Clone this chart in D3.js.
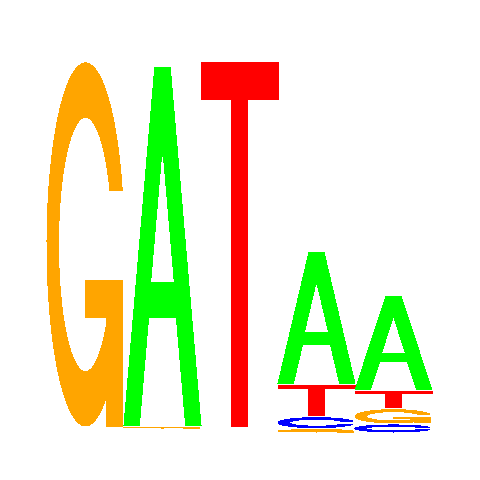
<!DOCTYPE html>
<html>
<head>
<meta charset="utf-8">
<script src="https://cdn.jsdelivr.net/npm/d3@7"></script>
<style>
  html, body { margin: 0; padding: 0; background: #fff; }
  svg { display: block; }
</style>
</head>
<body>
<svg id="logo" width="480" height="480"></svg>
<script>
// ── Data: information content (bits) per base, per position ──────────────
const POSITIONS = [1, 2, 3, 4, 5];
const BASES = ['A', 'C', 'G', 'T'];
const A_BITS = [0.000, 1.884, 0.000, 0.689, 0.491];
const C_BITS = [0.000, 0.000, 0.000, 0.053, 0.037];
const G_BITS = [1.911, 0.005, 0.000, 0.012, 0.070];
const T_BITS = [0.000, 0.000, 1.911, 0.158, 0.083];
const BASE_COLORS = ['#00ff00', '#0000ff', '#ffa500', '#ff0000'];

const svg = d3.select('#logo');
const W = 480, H = 480;
const LEFT = 47, RIGHT = 432, BASELINE = 432, GAP = 2;
const PX_PER_BIT = 190;

const x = d3.scaleBand().domain(POSITIONS).range([LEFT, RIGHT]).padding(0);
const hScale = d3.scaleLinear().domain([0, 1]).range([0, PX_PER_BIT]);
const color = d3.scaleOrdinal().domain(BASES).range(BASE_COLORS);

svg.append('rect').attr('width', W).attr('height', H).attr('fill', '#fff');

// ── Letter outlines in a unit box (x right, y up) ─────────────────────────
function ringShape() {
  const a1 = d3.range(100).map(i => 0.3 + Math.PI / 2 + i * (Math.PI / 2 - 0.3) / 99);
  const a2 = d3.range(100).map(i => Math.PI + i * (Math.PI / 2) / 99);
  const out = [...a1, ...a2].map(a => [0.5 + 0.5 * Math.sin(a), 0.5 + 0.5 * Math.cos(a)]);
  const cut = d3.max(a1, a => 0.5 + 0.5 * Math.cos(a));
  let in1 = a1.map(a => [0.5 + 0.35 * Math.sin(a), 0.5 + 0.35 * Math.cos(a)])
    .filter(p => p[1] <= cut);
  in1[0] = [in1[0][0], cut];
  const in2 = a2.map(a => [0.5 + 0.35 * Math.sin(a), 0.5 + 0.35 * Math.cos(a)]);
  const inn = [...in1, ...in2];
  const outer = [...out, ...out.slice().reverse().map(p => [p[0], 1 - p[1]])];
  const inner = [...inn, ...inn.slice().reverse().map(p => [p[0], 1 - p[1]])];
  return { pts: [...outer, ...inner.reverse()], r1: 0.5 + 0.5 * Math.sin(a1[0]) };
}
const ring = ringShape();
const GLYPHS = {
  A: [
    { hole: false, pts: [[0,0],[0.4,1],[0.6,1],[1,0],[0.8,0],[0.68,0.3],[0.32,0.3],[0.2,0]] },
    { hole: true,  pts: [[0.36,0.4],[0.5,0.75],[0.64,0.4]] }
  ],
  C: [{ hole: false, pts: ring.pts }],
  G: [
    { hole: false, pts: ring.pts },
    { hole: false, pts: [[ring.r1,0.4],[0.5,0.4],[0.5,0.3],[ring.r1-0.2,0.3],[ring.r1-0.2,0],[ring.r1,0]] }
  ],
  T: [{ hole: false, pts: [[0,1],[1,1],[1,0.9],[0.6,0.9],[0.6,0],[0.4,0],[0.4,0.9],[0,0.9]] }]
};

// ── Stack the letters: smallest at the bottom ─────────────────────────────
const letters = [];
POSITIONS.forEach((p, i) => {
  const vals = [A_BITS[i], C_BITS[i], G_BITS[i], T_BITS[i]];
  const col = BASES.map((b, j) => ({ base: b, bits: vals[j], pos: p }))
    .sort((m, n) => m.bits - n.bits);
  let cursor = BASELINE;
  col.forEach(d => {
    d.h = hScale(d.bits);
    d.y1 = cursor;
    cursor = cursor - d.h - GAP;
    if (d.h > 0.3) letters.push(d);
  });
});

const parts = [];
letters.forEach(d => {
  const x0 = x(d.pos), w = x.bandwidth();
  GLYPHS[d.base].forEach(g => {
    parts.push({
      base: d.base, hole: g.hole,
      pts: g.pts.map(([u, v]) => [x0 + u * w, d.y1 - v * d.h])
    });
  });
});

const line = d3.line();
svg.append('g')
  .selectAll('path')
  .data(parts)
  .join('path')
  .attr('d', d => line(d.pts) + 'Z')
  .attr('fill', d => d.hole ? '#fff' : color(d.base))
  .attr('stroke', d => d.hole ? '#fff' : color(d.base))
  .attr('stroke-width', 1)
  .attr('shape-rendering', 'crispEdges');
</script>
</body>
</html>
